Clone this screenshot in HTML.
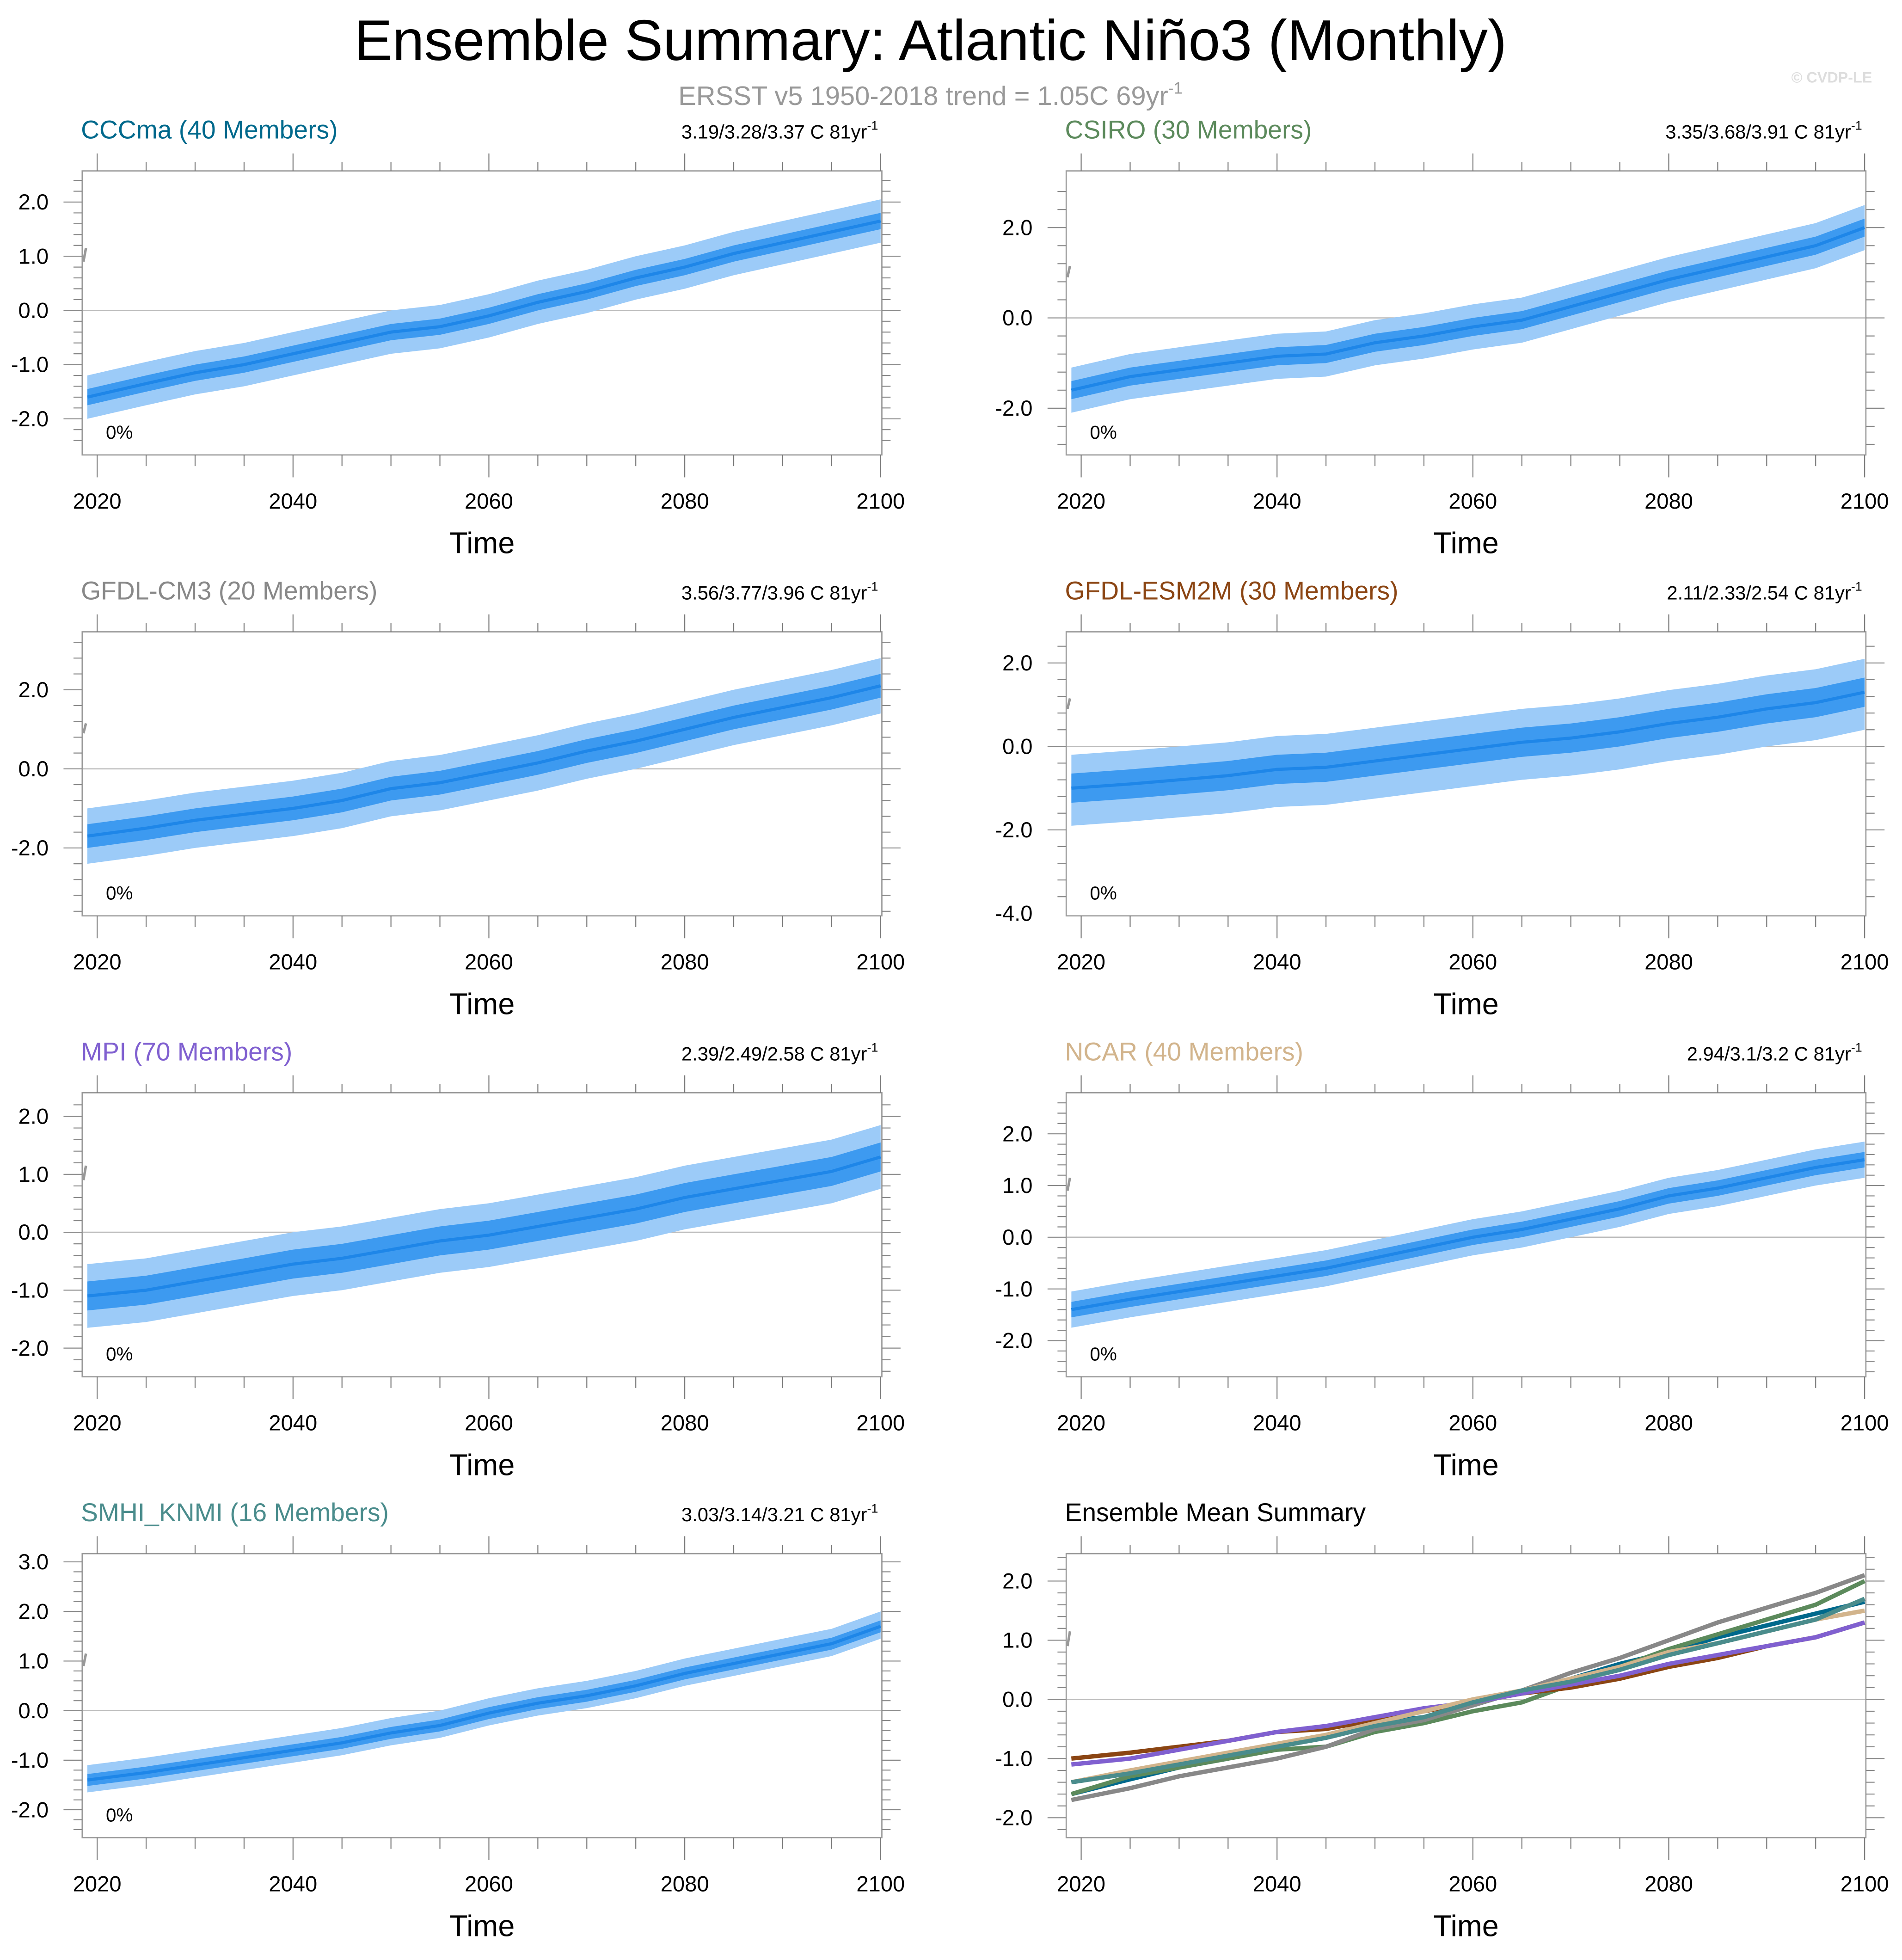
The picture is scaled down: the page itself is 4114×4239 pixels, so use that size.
<!DOCTYPE html>
<html><head><meta charset="utf-8"><style>
html,body{margin:0;padding:0;background:#fff;}
svg{display:block;}
text{font-family:"Liberation Sans",sans-serif;}
</style></head><body>
<svg id="chart" width="4114" height="4239" viewBox="0 0 1527 1573" xmlns="http://www.w3.org/2000/svg">
<text x="747" y="48" font-size="46" text-anchor="middle">Ensemble Summary: Atlantic Niño3 (Monthly)</text>
<text x="747" y="84" font-size="21.5" text-anchor="middle" fill="#999">ERSST v5 1950-2018 trend = 1.05C 69yr<tspan font-size="13" dy="-9">-1</tspan></text>
<text x="1503" y="66" font-size="12" font-weight="bold" text-anchor="end" fill="#ddd">© CVDP-LE</text>
<g id="panels"></g>
</svg>
<script>
const years = [2019,2025,2030,2035,2040,2045,2050,2055,2060,2065,2070,2075,2080,2085,2090,2095,2100];
const cccmaMean = [-1.6,-1.35,-1.15,-1.0,-0.8,-0.6,-0.4,-0.3,-0.1,0.15,0.35,0.6,0.8,1.05,1.25,1.45,1.65];
const csiroMean = [-1.6,-1.3,-1.15,-1.0,-0.85,-0.8,-0.55,-0.4,-0.2,-0.05,0.25,0.55,0.85,1.1,1.35,1.6,2.0];
const gfdlcm3Mean = [-1.7,-1.5,-1.3,-1.15,-1.0,-0.8,-0.5,-0.35,-0.1,0.15,0.45,0.7,1.0,1.3,1.55,1.8,2.1];
const esm2mMean = [-1.0,-0.9,-0.8,-0.7,-0.55,-0.5,-0.35,-0.2,-0.05,0.1,0.2,0.35,0.55,0.7,0.9,1.05,1.3];
const mpiMean = [-1.1,-1.0,-0.85,-0.7,-0.55,-0.45,-0.3,-0.15,-0.05,0.1,0.25,0.4,0.6,0.75,0.9,1.05,1.3];
const ncarMean = [-1.4,-1.2,-1.05,-0.9,-0.75,-0.6,-0.4,-0.2,0.0,0.15,0.35,0.55,0.8,0.95,1.15,1.35,1.5];
const smhiMean = [-1.4,-1.25,-1.1,-0.95,-0.8,-0.65,-0.45,-0.3,-0.05,0.15,0.3,0.5,0.75,0.95,1.15,1.35,1.7];
const outerLow = [0.4,0.5,0.7,0.9,0.55,0.35,0.25];
const outerHigh = [0.4,0.5,0.7,0.8,0.55,0.35,0.3];
const innerHalf = [0.15,0.2,0.3,0.35,0.25,0.15,0.12];
const modelNames = ["CCCma (40 Members)","CSIRO (30 Members)","GFDL-CM3 (20 Members)","GFDL-ESM2M (30 Members)","MPI (70 Members)","NCAR (40 Members)","SMHI_KNMI (16 Members)"];
const trendLabels = ["3.19/3.28/3.37 C 81yr","3.35/3.68/3.91 C 81yr","3.56/3.77/3.96 C 81yr","2.11/2.33/2.54 C 81yr","2.39/2.49/2.58 C 81yr","2.94/3.1/3.2 C 81yr","3.03/3.14/3.21 C 81yr"];
const modelColors = ["#00698c","#5c8a5c","#888888","#8b4513","#8060d0","#d2b48c","#4a8c8c"];
const xTicks = [2020,2040,2060,2080,2100];
const means = [cccmaMean,csiroMean,gfdlcm3Mean,esm2mMean,mpiMean,ncarMean,smhiMean];
// layout: [x0, top, zeroY, pxPerUnit, tickStep, tickMin, tickMax]
const layout = [[66,137,249,43.5,1,-2,2],[856,137,255,36.25,2,-2,2],[66,507,617,31.75,2,-2,2],[856,507,599,33.5,2,-4,2],[66,877,989,46.5,1,-2,2],[856,877,993,41.5,1,-2,2],[66,1247,1373,39.8,1,-2,3],[856,1247,1364,47.5,1,-2,2]];
const NS="http://www.w3.org/2000/svg";
const root=document.getElementById('panels');
function mk(tag,attrs,parent){const e=document.createElementNS(NS,tag);for(const k in attrs)e.setAttribute(k,attrs[k]);parent.appendChild(e);return e;}
const W=642,H=228;
function drawPanel(i){
  const [x0,top,zy,k,step,tmin,tmax]=layout[i];
  const g=mk('g',{},root);
  
  
  const xs=y=>x0+12+(y-2020)*(W-13)/80;
  const ys=v=>zy-v*k;
  const bot=top+H;
  if(i<7){
    const t=mk('text',{x:x0-1,y:top-26,'font-size':20.5,fill:modelColors[i]},g);t.textContent=modelNames[i];
    
    
    const r=mk('text',{x:x0+W-3,y:top-26,'font-size':15.5,'text-anchor':'end'},g);
    
    
    r.textContent=trendLabels[i];
    const s=mk('tspan',{'font-size':10,dy:-7},r);s.textContent='-1';
  } else {
    const t=mk('text',{x:x0-1,y:top-26,'font-size':20.5},g);t.textContent='Ensemble Mean Summary';
    
    
  }
  const z=mk('line',{x1:x0,x2:x0+W,y1:ys(0),y2:ys(0),stroke:'#bbb','stroke-width':1},g);
  
  
  if(i<7){
    const m=means[i];
    let up=[],dn=[],iu=[],id=[];
    years.forEach((y,j)=>{up.push(xs(y)+','+ys(m[j]+outerHigh[i]));dn.unshift(xs(y)+','+ys(m[j]-outerLow[i]));iu.push(xs(y)+','+ys(m[j]+innerHalf[i]));id.unshift(xs(y)+','+ys(m[j]-innerHalf[i]));});
    const o=mk('polygon',{points:up.concat(dn).join(' '),fill:'#9ccbf8'},g);
    
    
    const n=mk('polygon',{points:iu.concat(id).join(' '),fill:'#3d9af0'},g);
    
    
    const l=mk('polyline',{points:years.map((y,j)=>xs(y)+','+ys(m[j])).join(' '),fill:'none',stroke:'#1e86e8','stroke-width':2.5},g);
    
    
    const p=mk('text',{x:x0+19,y:bot-13,'font-size':15},g);p.textContent='0%';
    
    
  } else {
    means.forEach((m,j)=>{
      const l=mk('polyline',{points:years.map((y,q)=>xs(y)+','+ys(m[q])).join(' '),fill:'none',stroke:modelColors[j],'stroke-width':3.5},g);
      
      
    });
  }
  const q=mk('path',{d:`M${x0+1},${ys(0.9)} L${x0+3},${ys(1.15)}`,stroke:'#999','stroke-width':2,fill:'none'},g);
  
  
  const b=mk('rect',{x:x0,y:top,width:W,height:H,fill:'none',stroke:'#999','stroke-width':1},g);
  
  
  for(let y=2020;y<=2100;y+=5){
    const major=(y%20===0);
    mk('line',{x1:xs(y),x2:xs(y),y1:top,y2:top-(major?14:7),stroke:'#777','stroke-width':0.8},g);
    mk('line',{x1:xs(y),x2:xs(y),y1:bot,y2:bot+(major?18:9),stroke:'#777','stroke-width':0.8},g);
  }
  xTicks.forEach(y=>{const t=mk('text',{x:xs(y),y:bot+43,'font-size':17.5,'text-anchor':'middle'},g);t.textContent=y;
    
    });
  const xt=mk('text',{x:x0+321,y:bot+79,'font-size':24,'text-anchor':'middle'},g);xt.textContent='Time';
  
  
  const minor=step/5;
  for(let v=-10;v<=10;v+=minor){
    const vv=Math.round(v*100)/100;const py=ys(vv);
    if(py<top+3||py>bot-3)continue;
    const major=Math.abs(vv/step-Math.round(vv/step))<1e-6;
    const len=major?15:7;
    mk('line',{x1:x0,x2:x0-len,y1:py,y2:py,stroke:'#888','stroke-width':0.8},g);
    mk('line',{x1:x0+W,x2:x0+W+len,y1:py,y2:py,stroke:'#888','stroke-width':0.8},g);
  }
  for(let v=tmin;v<=tmax;v+=step){
    const t=mk('text',{x:x0-27,y:ys(v)+6,'font-size':17.5,'text-anchor':'end'},g);t.textContent=v.toFixed(1);
    
    
  }
}
for(let i=0;i<8;i++)drawPanel(i);
</script>
</body></html>
